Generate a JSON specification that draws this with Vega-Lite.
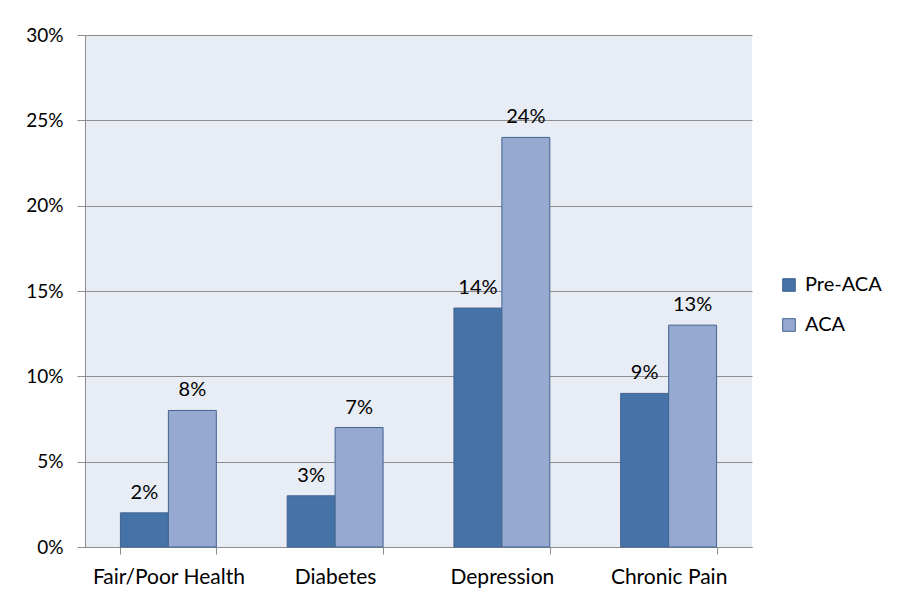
{
  "$schema": "https://vega.github.io/schema/vega-lite/v6.json",
  "autosize": "none",
  "padding": {"left": 85, "top": 35, "right": 146, "bottom": 46},
  "width": 667,
  "height": 512,
  "background": "white",
  "config": {
    "view": {"stroke": null, "fill": "#E8ECF4"},
    "font": "Lato",
    "axis": {"labelFont": "Lato", "labelFontSize": 19, "labelColor": "#000000"},
    "legend": {"labelFont": "Lato", "labelFontSize": 20, "labelColor": "#000000"}
  },
  "data": {
    "values": [
      {"category": "Fair/Poor Health", "series": "Pre-ACA", "value": 0.02},
      {"category": "Fair/Poor Health", "series": "ACA", "value": 0.08},
      {"category": "Diabetes", "series": "Pre-ACA", "value": 0.03},
      {"category": "Diabetes", "series": "ACA", "value": 0.07},
      {"category": "Depression", "series": "Pre-ACA", "value": 0.14},
      {"category": "Depression", "series": "ACA", "value": 0.24},
      {"category": "Chronic Pain", "series": "Pre-ACA", "value": 0.09},
      {"category": "Chronic Pain", "series": "ACA", "value": 0.13}
    ]
  },
  "encoding": {
    "x": {
      "field": "category", "type": "nominal",
      "sort": ["Fair/Poor Health", "Diabetes", "Depression", "Chronic Pain"],
      "scale": {"paddingInner": 0.425, "paddingOuter": 0.2125},
      "axis": {
        "title": null, "labelAngle": 0, "domainColor": "#8c8c8c", "tickColor": "#8c8c8c",
        "tickBand": "extent", "tickSize": 7, "labelPadding": 12, "labelFontSize": 21, "grid": false
      }
    },
    "xOffset": {"field": "series", "type": "nominal", "sort": ["Pre-ACA", "ACA"]},
    "y": {
      "field": "value", "type": "quantitative",
      "scale": {"domain": [0, 0.3], "nice": false},
      "axis": {
        "title": null, "format": ".0%", "values": [0, 0.05, 0.1, 0.15, 0.2, 0.25, 0.3],
        "domainColor": "#8c8c8c", "tickColor": "#8c8c8c", "tickSize": 8, "labelPadding": 14,
        "gridColor": "#8c8c8c", "gridWidth": 1, "grid": true
      }
    }
  },
  "layer": [
    {
      "mark": {"type": "bar", "stroke": "#41648F", "strokeWidth": 1},
      "encoding": {
        "color": {
          "field": "series", "type": "nominal",
          "sort": ["Pre-ACA", "ACA"],
          "scale": {"domain": ["Pre-ACA", "ACA"], "range": ["#4572A7", "#95A9D1"]},
          "legend": {
            "title": null, "orient": "none", "legendX": 694, "legendY": 240,
            "symbolType": "square", "symbolSize": 160, "symbolStrokeColor": "#41648F",
            "symbolStrokeWidth": 1, "rowPadding": 20, "labelOffset": 6
          }
        }
      }
    },
    {
      "mark": {"type": "text", "dy": -20, "fontSize": 20, "font": "Lato", "color": "#000000"},
      "encoding": {
        "text": {"field": "value", "type": "quantitative", "format": ".0%"}
      }
    }
  ]
}
